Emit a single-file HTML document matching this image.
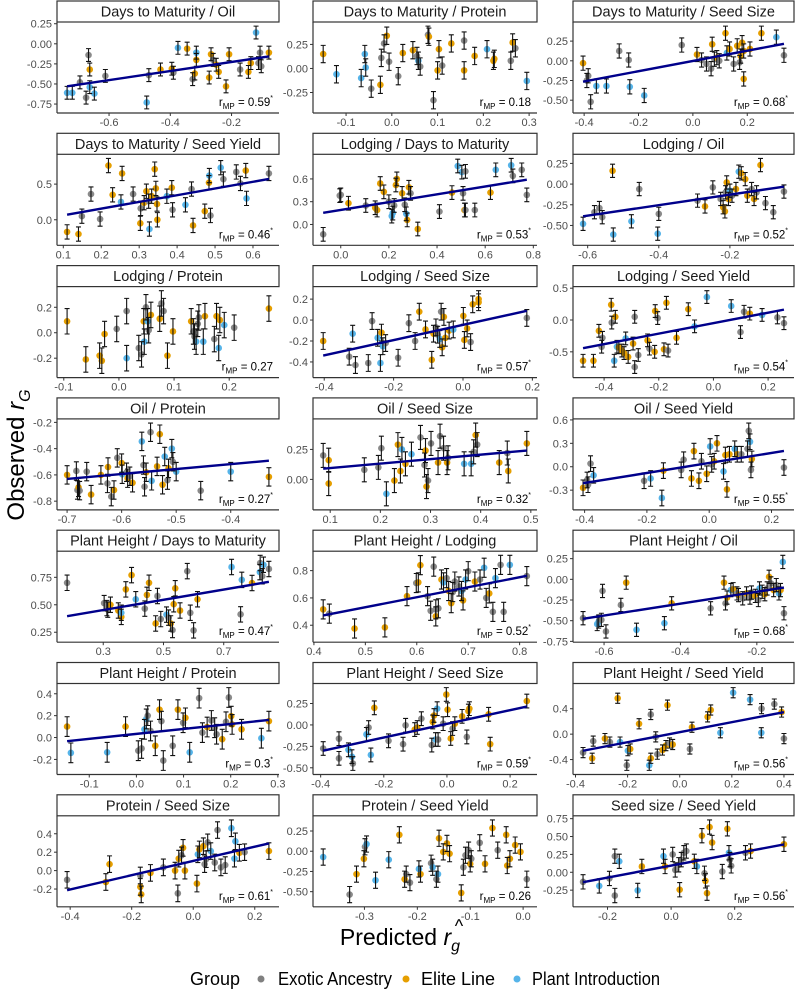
<!DOCTYPE html>
<html><head><meta charset="utf-8">
<style>
html,body{margin:0;padding:0;background:#fff;}
svg{display:block;font-family:"Liberation Sans",sans-serif;}
</style></head>
<body>
<svg id="chart" width="800" height="994" viewBox="0 0 800 994" xmlns="http://www.w3.org/2000/svg">
<text transform="translate(24,455) rotate(-90)" text-anchor="middle" font-size="24" fill="#000">Observed <tspan font-style="italic">r</tspan><tspan font-style="italic" font-size="16" dy="6">G</tspan></text>
<text x="400" y="945" text-anchor="middle" font-size="23" fill="#000">Predicted <tspan font-style="italic">r</tspan><tspan font-style="italic" font-size="16" dy="6">g</tspan></text>
<text x="459" y="932" text-anchor="middle" font-size="18" fill="#000">^</text>
<g>
<text x="190" y="985" font-size="18" textLength="50" lengthAdjust="spacingAndGlyphs" fill="#000">Group</text>
<circle cx="261" cy="979" r="3.5" fill="#808080"/>
<text x="278" y="985" font-size="18" textLength="114" lengthAdjust="spacingAndGlyphs" fill="#000">Exotic Ancestry</text>
<circle cx="406" cy="979" r="3.5" fill="#E69F00"/>
<text x="421" y="985" font-size="18" textLength="74" lengthAdjust="spacingAndGlyphs" fill="#000">Elite Line</text>
<circle cx="517" cy="979" r="3.5" fill="#56B4E9"/>
<text x="532" y="985" font-size="18" textLength="128" lengthAdjust="spacingAndGlyphs" fill="#000">Plant Introduction</text>
</g>
</svg>
<script>
const panelTitles = ["Days to Maturity / Oil","Days to Maturity / Protein","Days to Maturity / Seed Size","Days to Maturity / Seed Yield","Lodging / Days to Maturity","Lodging / Oil","Lodging / Protein","Lodging / Seed Size","Lodging / Seed Yield","Oil / Protein","Oil / Seed Size","Oil / Seed Yield","Plant Height / Days to Maturity","Plant Height / Lodging","Plant Height / Oil","Plant Height / Protein","Plant Height / Seed Size","Plant Height / Seed Yield","Protein / Seed Size","Protein / Seed Yield","Seed size / Seed Yield"];
const rValues = ["0.59","0.18","0.68","0.46","0.53","0.52","0.27","0.57","0.54","0.27","0.32","0.55","0.47","0.52","0.68","0.3","0.59","0.56","0.61","0.26","0.56"];
const rSignificant = [1,0,1,1,1,1,0,1,1,1,1,1,1,1,1,1,1,1,1,0,1];
const errHalf = [0.08,0.09,0.09,0.1,0.09,0.08,0.1,0.08,0.1,0.07,0.1,0.1,0.07,0.07,0.08,0.09,0.08,0.08,0.09,0.1,0.1];
const xTicks = [[-0.6,-0.4,-0.2],[-0.1,0,0.1,0.2,0.3],[-0.4,-0.2,0,0.2],[0.1,0.2,0.3,0.4,0.5,0.6],[0,0.2,0.4,0.6,0.8],[-0.6,-0.4,-0.2,0],[-0.1,0,0.1,0.2,0.3],[-0.4,-0.2,0,0.2],[-0.4,-0.2,0,0.2],[-0.7,-0.6,-0.5,-0.4],[0.1,0.2,0.3,0.4,0.5],[-0.4,-0.2,0,0.2],[0.3,0.5,0.7],[0.4,0.5,0.6,0.7,0.8],[-0.6,-0.4,-0.2],[-0.1,0,0.1,0.2,0.3],[-0.4,-0.2,0,0.2],[-0.4,-0.2,0,0.2,0.4],[-0.4,-0.2,0,0.2],[-0.4,-0.3,-0.2,-0.1,0],[-0.2,0,0.2]];
const yTicks = [[0.25,0,-0.25,-0.5,-0.75],[0.5,0.25,0,-0.25],[0.25,0,-0.25,-0.5],[0.5,0],[0.6,0.3,0],[0.25,0,-0.25,-0.5],[0.4,0.2,0,-0.2],[0.2,0,-0.2,-0.4],[0.5,0,-0.5],[-0.2,-0.4,-0.6,-0.8],[0.25,0],[0.6,0.3,0,-0.3],[0.75,0.5,0.25],[0.8,0.6,0.4],[0.25,0,-0.25,-0.5,-0.75],[0.4,0.2,0,-0.2],[0.25,0,-0.25,-0.5],[0.4,0,-0.4],[0.4,0.2,0,-0.2],[0.25,0,-0.25,-0.5],[0.75,0.5,0.25,0,-0.25,-0.5]];
const pointX = [
[-0.737,-0.72,-0.675,-0.667,-0.663,-0.663,-0.648,-0.695,-0.612,-0.477,-0.47,-0.432,-0.395,-0.39,-0.375,-0.345,-0.327,-0.32,-0.315,-0.315,-0.273,-0.267,-0.26,-0.25,-0.242,-0.218,-0.208,-0.172,-0.145,-0.137,-0.12,-0.112,-0.107,-0.103,-0.078],
[-0.15,-0.121,-0.067,-0.059,-0.057,-0.045,-0.025,-0.023,-0.017,-0.011,-0.006,0.014,0.024,0.046,0.055,0.058,0.062,0.079,0.081,0.091,0.1,0.103,0.11,0.13,0.158,0.158,0.181,0.208,0.222,0.224,0.26,0.264,0.27,0.295],
[-0.404,-0.385,-0.376,-0.39,-0.355,-0.318,-0.271,-0.236,-0.232,-0.179,-0.041,0.015,0.032,0.05,0.067,0.071,0.079,0.088,0.097,0.12,0.125,0.135,0.15,0.163,0.172,0.176,0.181,0.187,0.187,0.21,0.252,0.307,0.335],
[0.11,0.14,0.149,0.173,0.197,0.219,0.23,0.252,0.255,0.284,0.303,0.304,0.313,0.319,0.325,0.327,0.333,0.341,0.344,0.348,0.347,0.373,0.386,0.388,0.422,0.438,0.442,0.473,0.484,0.485,0.488,0.515,0.522,0.556,0.567,0.581,0.583,0.642],
[-0.073,-0.004,0,0.032,0.104,0.143,0.151,0.164,0.179,0.2,0.212,0.216,0.222,0.229,0.233,0.255,0.266,0.272,0.276,0.283,0.29,0.32,0.41,0.462,0.486,0.503,0.508,0.514,0.518,0.557,0.622,0.644,0.708,0.715,0.752,0.773,0.518],
[-0.613,-0.581,-0.567,-0.559,-0.53,-0.528,-0.477,-0.455,-0.4,-0.403,-0.291,-0.27,-0.248,-0.226,-0.219,-0.214,-0.212,-0.209,-0.204,-0.2,-0.194,-0.183,-0.175,-0.168,-0.157,-0.151,-0.139,-0.132,-0.125,-0.114,-0.1,-0.078,-0.048],
[-0.094,-0.06,-0.035,-0.031,-0.026,-0.004,0.014,0.014,0.036,0.041,0.045,0.046,0.049,0.052,0.054,0.058,0.074,0.077,0.081,0.088,0.098,0.131,0.135,0.137,0.14,0.143,0.145,0.153,0.156,0.173,0.177,0.181,0.183,0.191,0.209,0.272],
[-0.403,-0.328,-0.318,-0.31,-0.273,-0.262,-0.246,-0.238,-0.235,-0.231,-0.223,-0.187,-0.156,-0.138,-0.126,-0.108,-0.09,-0.085,-0.078,-0.073,-0.067,-0.063,-0.06,-0.055,-0.051,-0.04,-0.028,0.001,0.004,0.012,0.022,0.028,0.045,0.045,0.184],
[-0.477,-0.439,-0.419,-0.409,-0.406,-0.374,-0.372,-0.363,-0.359,-0.353,-0.346,-0.335,-0.327,-0.321,-0.312,-0.294,-0.288,-0.288,-0.275,-0.241,-0.234,-0.215,-0.213,-0.204,-0.181,-0.172,-0.166,-0.135,-0.092,-0.069,-0.024,0.065,0.099,0.112,0.133,0.178,0.234,0.258],
[-0.7,-0.683,-0.681,-0.679,-0.677,-0.664,-0.656,-0.638,-0.626,-0.625,-0.619,-0.614,-0.608,-0.6,-0.599,-0.591,-0.589,-0.585,-0.58,-0.563,-0.56,-0.558,-0.555,-0.547,-0.545,-0.535,-0.53,-0.525,-0.521,-0.516,-0.514,-0.508,-0.506,-0.5,-0.455,-0.4,-0.33],
[0.086,0.097,0.097,0.168,0.196,0.202,0.212,0.228,0.235,0.24,0.243,0.25,0.262,0.28,0.288,0.29,0.292,0.295,0.301,0.315,0.319,0.326,0.333,0.335,0.367,0.381,0.386,0.39,0.393,0.437,0.453,0.455,0.492],
[-0.405,-0.392,-0.389,-0.381,-0.371,-0.209,-0.188,-0.152,-0.147,-0.09,-0.082,-0.057,-0.049,-0.033,-0.025,-0.008,0.003,0.008,0.016,0.025,0.046,0.052,0.057,0.065,0.082,0.09,0.103,0.123,0.127,0.131,0.134,0.137,0.24],
[0.18,0.303,0.312,0.315,0.324,0.35,0.36,0.36,0.375,0.394,0.408,0.438,0.445,0.452,0.474,0.48,0.491,0.51,0.517,0.524,0.53,0.534,0.539,0.555,0.579,0.589,0.6,0.613,0.726,0.756,0.76,0.794,0.82,0.821,0.828,0.832,0.85],
[0.418,0.43,0.479,0.538,0.581,0.599,0.603,0.607,0.621,0.627,0.633,0.637,0.637,0.642,0.648,0.652,0.658,0.662,0.667,0.67,0.674,0.682,0.687,0.69,0.695,0.7,0.713,0.723,0.731,0.735,0.741,0.748,0.753,0.763,0.769,0.781,0.814],
[-0.655,-0.618,-0.614,-0.607,-0.604,-0.595,-0.556,-0.542,-0.515,-0.442,-0.423,-0.321,-0.286,-0.282,-0.278,-0.268,-0.262,-0.252,-0.248,-0.237,-0.227,-0.218,-0.214,-0.204,-0.196,-0.193,-0.186,-0.179,-0.173,-0.168,-0.163,-0.156,-0.149,-0.142,-0.138,-0.132,-0.129],
[-0.147,-0.139,-0.062,-0.023,0.004,0.011,0.017,0.021,0.024,0.03,0.04,0.049,0.053,0.057,0.077,0.088,0.099,0.104,0.113,0.133,0.14,0.15,0.159,0.166,0.17,0.182,0.19,0.196,0.201,0.203,0.223,0.265,0.281],
[-0.392,-0.342,-0.342,-0.312,-0.301,-0.298,-0.255,-0.248,-0.241,-0.23,-0.185,-0.139,-0.131,-0.102,-0.094,-0.081,-0.048,-0.045,-0.041,-0.036,-0.031,-0.028,-0.012,-0.002,0.002,0.012,0.018,0.025,0.048,0.063,0.068,0.071,0.137,0.132,0.253],
[-0.371,-0.336,-0.332,-0.287,-0.268,-0.238,-0.229,-0.203,-0.199,-0.19,-0.156,-0.117,-0.111,-0.111,-0.092,-0.086,-0.066,-0.053,-0.047,-0.039,-0.027,0.039,0.047,0.107,0.119,0.156,0.205,0.27,0.313,0.314,0.363,0.391,0.4],
[-0.41,-0.284,-0.272,-0.172,-0.172,-0.169,-0.139,-0.097,-0.059,-0.05,-0.047,-0.038,-0.033,-0.027,0.012,0.015,0.02,0.033,0.037,0.042,0.047,0.057,0.07,0.079,0.09,0.104,0.124,0.134,0.137,0.15,0.167,0.246],
[-0.378,-0.328,-0.315,-0.301,-0.299,-0.296,-0.279,-0.254,-0.234,-0.224,-0.221,-0.214,-0.194,-0.197,-0.174,-0.171,-0.164,-0.161,-0.159,-0.151,-0.144,-0.139,-0.117,-0.113,-0.109,-0.103,-0.1,-0.098,-0.082,-0.072,-0.058,-0.048,-0.032,-0.03,-0.025,-0.015,-0.005,0.007],
[-0.277,-0.226,-0.194,-0.177,-0.177,-0.163,-0.105,-0.092,-0.024,-0.019,0.005,0.013,0.024,0.027,0.032,0.04,0.048,0.073,0.081,0.097,0.105,0.108,0.113,0.121,0.129,0.161,0.177,0.182,0.185,0.189,0.234,0.25,0.355]
];
const pointY = [
[-0.61,-0.61,-0.67,-0.14,-0.32,-0.54,-0.62,-0.48,-0.40,-0.73,-0.39,-0.32,-0.31,-0.36,-0.05,-0.06,-0.44,-0.37,-0.11,-0.2,-0.42,-0.13,-0.2,-0.26,-0.35,-0.53,-0.13,-0.32,-0.35,-0.24,0.14,-0.24,-0.11,-0.28,-0.11],
[0.15,-0.06,-0.1,0.15,0.01,-0.21,-0.17,0.11,0.26,0.34,0.07,-0.08,0.16,0.19,0.13,0.08,0.02,0.35,0.33,-0.33,-0.02,0.2,0.03,0.26,-0.02,0.29,0.13,0.2,0.08,0.1,0.08,0.27,0.21,-0.13],
[-0.03,-0.19,-0.52,-0.25,-0.32,-0.32,0.125,0.01,-0.33,-0.44,0.2,0.08,0.01,-0.04,-0.1,0.21,0.02,0.04,0,0.35,0.1,0.15,-0.04,0.19,-0.02,0.06,0.23,-0.23,0.125,0.15,0.35,0.3,0.07],
[-0.17,-0.2,0.05,0.36,0.01,0.76,0.35,0.25,0.65,0.36,-0.05,0.16,0.24,0.4,0.26,-0.13,0.33,0.71,0.44,0,0.22,0.33,0.45,0.14,0.21,0.43,-0.08,0.12,0.52,0.62,0.06,0.73,0.57,0.67,0.51,0.69,0.3,0.65],
[-0.13,0.38,0.39,0.28,0.25,0.22,0.19,0.54,0.43,0.3,0.11,0.15,0.25,0.52,0.6,0.41,0.26,0.14,0.06,0.49,0.41,-0.06,0.17,0.42,0.77,0.69,0.41,0.19,0.19,0.19,0.42,0.72,0.78,0.64,0.72,0.39,0.70],
[-0.48,-0.34,-0.29,-0.4,0.16,-0.61,-0.45,-0.06,-0.36,-0.6,-0.2,-0.27,-0.04,-0.18,-0.28,-0.33,-0.1,0.02,-0.18,-0.08,-0.14,-0.06,0.15,0.13,0.06,-0.14,-0.06,-0.18,-0.1,0.23,-0.23,-0.34,-0.09],
[0.09,-0.21,-0.18,-0.22,-0.01,0.03,-0.2,0.17,-0.12,-0.17,0.09,-0.07,0.2,0.09,0.02,0.14,0.11,0.23,0.17,-0.18,0.01,0.09,0.01,-0.03,-0.07,0.07,0.12,-0.07,0.13,-0.05,0.13,-0.12,0.1,0.06,0.04,0.19],
[-0.2,-0.35,-0.13,-0.43,-0.41,-0.01,-0.17,-0.41,-0.12,-0.25,-0.22,-0.36,-0.03,-0.2,0.08,-0.09,-0.38,-0.13,-0.07,-0.14,-0.18,0.08,-0.26,0.03,-0.17,-0.1,-0.09,0.04,-0.19,-0.08,-0.21,0.15,0.17,0.2,0.02],
[-0.64,-0.64,-0.17,-0.42,-0.28,0.24,-0.04,-0.64,0.05,-0.42,-0.43,-0.48,-0.52,-0.29,-0.58,-0.37,-0.74,0.05,-0.55,-0.32,-0.45,-0.5,0.14,0.03,-0.46,0.27,-0.48,-0.28,0.17,-0.1,0.36,0.22,-0.19,0.13,0.1,0.08,0.04,-0.05],
[-0.6,-0.57,-0.715,-0.695,-0.72,-0.575,-0.75,-0.6,-0.665,-0.54,-0.765,-0.715,-0.47,-0.51,-0.595,-0.58,-0.625,-0.61,-0.66,-0.345,-0.525,-0.69,-0.58,-0.275,-0.645,-0.535,-0.29,-0.675,-0.46,-0.64,-0.55,-0.4,-0.5,-0.575,-0.72,-0.575,-0.615],
[0.2,0.16,-0.035,0.08,0.1,0.26,-0.12,-0.01,0.29,0.07,0.25,0.13,0.21,0.35,0.12,0.24,-0.06,-0.01,0.3,0.14,0.36,0.26,0.14,0.18,0.13,0.13,0.23,0.37,0.29,0.14,0.22,0.07,0.3],
[-0.27,-0.17,-0.23,0.04,-0.11,-0.18,-0.15,-0.4,-0.05,-0.04,0.09,-0.15,0.2,-0.18,0.07,-0.09,0.26,0.03,0.07,0.3,-0.06,0.15,-0.29,0.16,0.23,0.16,0.16,0.23,0.46,0.32,-0.04,0.1,-0.01],
[0.7,0.515,0.47,0.456,0.5,0.448,0.39,0.427,0.64,0.77,0.55,0.465,0.59,0.7,0.33,0.58,0.37,0.41,0.383,0.33,0.27,0.505,0.65,0.448,0.806,0.427,0.267,0.55,0.844,0.413,0.727,0.698,0.797,0.88,0.76,0.864,0.826],
[0.516,0.485,0.376,0.384,0.613,0.709,0.714,0.84,0.613,0.506,0.829,0.516,0.465,0.524,0.735,0.714,0.745,0.651,0.562,0.643,0.72,0.684,0.651,0.582,0.735,0.796,0.72,0.735,0.821,0.6,0.633,0.498,0.745,0.842,0.498,0.842,0.76],
[-0.47,-0.54,-0.51,-0.49,-0.14,-0.63,-0.31,-0.04,-0.61,-0.53,-0.29,-0.35,-0.04,-0.29,-0.22,-0.13,-0.12,-0.17,-0.19,-0.23,-0.17,-0.22,-0.16,-0.2,-0.25,-0.11,-0.15,-0.18,-0.11,0.03,-0.05,-0.13,-0.07,-0.17,-0.13,0.21,-0.41],
[0.1,-0.14,-0.135,0.1,-0.12,-0.1,0.075,0.17,0.2,0.06,-0.075,0.255,0.15,-0.21,-0.075,0.255,0.135,0.18,-0.135,0.36,0.045,0.096,0.156,0.09,0.03,-0.015,0.144,0.366,0.195,0.12,0.075,-0.006,0.15],
[-0.275,-0.16,-0.39,-0.29,-0.37,-0.45,-0.11,-0.03,-0.35,0.2,-0.185,-0.225,-0.004,-0.054,-0.03,0.073,-0.235,0.035,0.11,-0.17,0.19,-0.17,0.015,0.355,0.178,-0.158,-0.042,0.015,0.1,-0.14,0.162,0.19,-0.224,0.124,0.278],
[-0.29,-0.38,-0.11,-0.07,-0.125,0.565,-0.125,-0.49,-0.26,-0.234,0.163,-0.49,-0.38,0.31,-0.043,-0.315,-0.25,-0.18,0.456,-0.14,-0.163,-0.234,0.109,0.272,0.38,0.022,0.652,0.543,0.022,0.402,0.473,0.348,-0.07],
[-0.1,-0.124,0.07,-0.053,-0.177,-0.258,-0.025,0.035,0,-0.247,0.13,0.166,0.247,0,-0.141,0.177,0.23,0.265,0.07,0.124,0.307,0.212,0.088,0.44,0.035,0.06,0.46,0.13,0.318,0.194,0.2,0.212],
[-0.072,-0.536,-0.283,-0.093,0.055,0.089,-0.359,-0.105,0.203,-0.346,-0.283,-0.388,-0.283,-0.219,-0.148,-0.198,-0.346,-0.283,0.16,-0.008,0.097,-0.03,-0.515,-0.198,-0.05,0.013,-0.156,-0.093,0.105,-0.156,0.287,0.013,0.203,-0.177,-0.093,0.076,-0.008,-0.346],
[-0.134,-0.191,-0.086,0.225,-0.325,0.153,-0.254,0.081,0.225,0.081,0.249,0.033,0.105,-0.244,0.177,0.273,0.297,0.153,0.081,0.512,-0.014,-0.12,-0.292,0.632,0.416,0.01,0.608,0.273,0.177,0.09,0.273,0.297,0.392]
];
const pointGroup = [
"b b g g o b b g g b g o o g b o g o b o o o g o o o o g o o b g g g o",
"o b b b b g o g g o g g o o g b g g o g o o g o o g o b o o g o g b",
"o g g g b b g g b b g o g g g o g o g o b o g o g o o o o o o b g",
"o o g g g o o b o g o g o o g b o o o o o b o g b g o o o b g b g g g o b g",
"g g g o g o o o o g b b g o o o g b o o g o g o b b g o g g o b b g g g g",
"b g g g o b b g g b g o g g o o g o o b g o b o o o g o g o g g g",
"o o o o o g b g g g o b g b g o o g g o o o g g b g g b o g o b o b g o",
"o g b g g g b b o b g g g g o o o o g g b g o o o o b o o o g o o o g",
"o o o g g o g b o b o o o b o o g g g o g o o g o o g o o b b b g g o b g g",
"o g g o g g o o g o g o g o b g o g o b g g o g b o o o b g o b g b g b o",
"g o o g g g b o o o b o b g g o o g g o g g o g b b g o g o g o o",
"o g g g b g b b o g g o o o g o b g o o b o o o b o g g g b g o g",
"g g g g o o o b o o b g o o o g g b g o g o o o g g g o b g b o b g g b g",
"o g o o o g o o g g g g o g o b g o o g g g b o b g o g b g o g b g g b g",
"g b b g g g g o b b o g o g o b o g o g o g g o g b g o g o g o g b o b g",
"o b b o g g b b g g o o g g g o g o b g g o g g g o g g o o o b o",
"g g g b b g b g b o g g g o o g g o o b b g g o o o g o o g o o o o o",
"g o g o g o b g b o o b o g g g o o o g o g o o o b b b b g g o g",
"g o o g o o o g o g o g o o o b o o g g g b g g g g b b b o g o",
"b g o o g b b b o o g g o b g b g b o o o o o g g g o g g o o g o o o o o g",
"g b g g g b b o b o g g g o g g g o b o g o o o o g o b g g g o o"
];
const groupColor = {g:"#8a8a8a", o:"#E69F00", b:"#56B4E9"};
const groupName = {g:"exotic-ancestry", o:"elite-line", b:"plant-introduction"};

const NS = "http://www.w3.org/2000/svg";
const svg = document.getElementById("chart");
const colLeft = [57, 313, 573];
const colWidth = [222, 224, 221];
const rowPitch = 132.3;
const plotH = 91;
const stripH = 21;

function mk(tag, attrs, parent) {
  const el = document.createElementNS(NS, tag);
  for (const k in attrs) el.setAttribute(k, attrs[k]);
  parent.appendChild(el);
  return el;
}
function decimals(arr) {
  let d = 0;
  arr.forEach(v => { const s = String(Math.abs(v)); const i = s.indexOf('.'); if (i >= 0) d = Math.max(d, s.length - i - 1); });
  return d;
}
function fmt(v, d) { const s = Math.abs(v).toFixed(d); return (v < -1e-9 ? "-" : "") + s; }

panelTitles.forEach((title, p) => {
  const col = p % 3, row = Math.floor(p / 3);
  const L = colLeft[col], W = colWidth[col];
  const T = 22 + rowPitch * row, B = T + plotH;
  const xs = pointX[p], ys = pointY[p], gs = pointGroup[p].split(" "), e = errHalf[p];
  let xmin = Math.min(...xs), xmax = Math.max(...xs);
  let ymin = Math.min(...ys) - e, ymax = Math.max(...ys) + e;
  const xr = xmax - xmin, yr = ymax - ymin;
  const dx0 = xmin - 0.05 * xr, dx1 = xmax + 0.05 * xr;
  const dy0 = ymin - 0.05 * yr, dy1 = ymax + 0.05 * yr;
  const sx = v => L + (v - dx0) / (dx1 - dx0) * W;
  const sy = v => B - (v - dy0) / (dy1 - dy0) * plotH;

  const g = mk("g", {}, svg);
  
  

  const strip = mk("rect", {x: L, y: T - stripH, width: W, height: stripH, fill: "#fff", stroke: "#333", "stroke-width": 1.2}, g);
  
  
  const st = mk("text", {x: L + W / 2, y: T - 5.5, "text-anchor": "middle", "font-size": 14.5, fill: "#1a1a1a"}, g);
  st.textContent = title;
  
  

  const xa = mk("line", {x1: L, y1: B, x2: L + W, y2: B, stroke: "#333", "stroke-width": 1.2}, g);
  
  
  const ya = mk("line", {x1: L, y1: T, x2: L, y2: B, stroke: "#333", "stroke-width": 1.2}, g);
  
  

  const xd = decimals(xTicks[p]);
  xTicks[p].forEach(v => {
    const x = sx(v);
    if (x < L - 1 || x > L + W + 1) return;
    const tk = mk("line", {x1: x, y1: B, x2: x, y2: B + 3, stroke: "#333", "stroke-width": 1}, g);
    
    
    const t = mk("text", {x: x, y: B + 13, "text-anchor": "middle", "font-size": 11, fill: "#4d4d4d"}, g);
    t.textContent = fmt(v, Math.max(1, xd));
    
    
  });
  const yd = decimals(yTicks[p]);
  yTicks[p].forEach(v => {
    const y = sy(v);
    if (y < T - 1 || y > B + 1) return;
    const tk = mk("line", {x1: L - 3, y1: y, x2: L, y2: y, stroke: "#333", "stroke-width": 1}, g);
    
    
    const t = mk("text", {x: L - 5, y: y + 4, "text-anchor": "end", "font-size": 11, fill: "#4d4d4d"}, g);
    t.textContent = fmt(v, Math.max(1, yd));
    
    
  });

  xs.forEach((xv, i) => {
    const c = mk("circle", {cx: sx(xv), cy: sy(ys[i]), r: 3.3, fill: groupColor[gs[i]] || "#8a8a8a"}, g);
    
    
  });
  xs.forEach((xv, i) => {
    const x = sx(xv), y0 = sy(ys[i] - e), y1 = sy(ys[i] + e);
    const eb = mk("path", {d: `M${x},${y0}V${y1}M${x-2.5},${y0}H${x+2.5}M${x-2.5},${y1}H${x+2.5}`, stroke: "#111", "stroke-width": 1.1, fill: "none"}, g);
    
    
  });
  if (rSignificant[p]) {
    const n = xs.length;
    const mx = xs.reduce((a, b) => a + b, 0) / n, my = ys.reduce((a, b) => a + b, 0) / n;
    let sxy = 0, sxx = 0;
    xs.forEach((xv, i) => { sxy += (xv - mx) * (ys[i] - my); sxx += (xv - mx) * (xv - mx); });
    const slope = sxy / sxx, icpt = my - slope * mx;
    const rl = mk("line", {x1: sx(xmin), y1: sy(icpt + slope * xmin), x2: sx(xmax), y2: sy(icpt + slope * xmax), stroke: "#00008B", "stroke-width": 2.4}, g);
    
    
  }

  const rt = mk("text", {x: L + W - 6, y: B - 7, "text-anchor": "end", "font-size": 11.5, fill: "#000"}, g);
  
  
  rt.innerHTML = 'r<tspan font-size="8" dy="3">MP</tspan><tspan dy="-3"> = ' + rValues[p] + '</tspan>' + (rSignificant[p] ? '<tspan font-size="7" dy="-6">*</tspan>' : '');
});
</script>
</body></html>
